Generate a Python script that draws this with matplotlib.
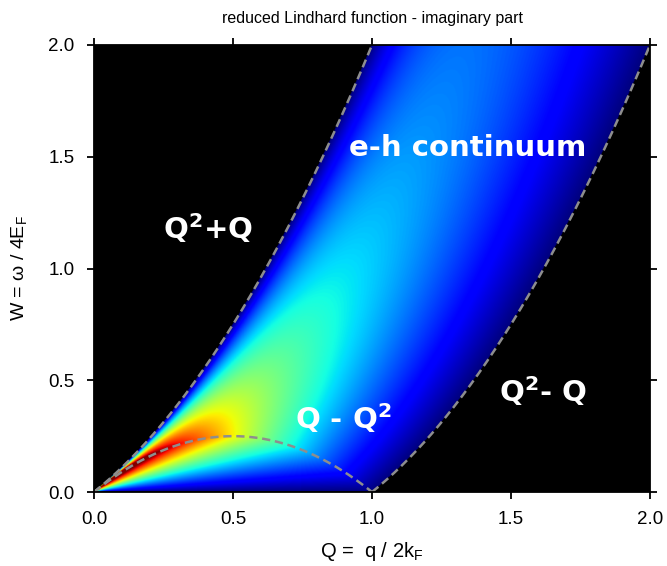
import numpy as np
import matplotlib
matplotlib.use("Agg")
import matplotlib.pyplot as plt

# axis ranges and ticks
q_range = [0.0, 2.0]
w_range = [0.0, 2.0]
q_ticks = [0.0, 0.5, 1.0, 1.5, 2.0]
w_ticks = [0.0, 0.5, 1.0, 1.5, 2.0]
tick_labels = ["0.0", "0.5", "1.0", "1.5", "2.0"]

# colour scale of the map
c_min = 0.0
c_max = 1.2

# region labels (text, Q, W)
label_texts = ["Q$^\\mathregular{2}$+Q", "e-h continuum", "Q - Q$^\\mathregular{2}$", "Q$^\\mathregular{2}$- Q"]
label_q = [0.41, 1.345, 0.895, 1.615]
label_w = [1.18, 1.54, 0.33, 0.45]

plt.rcParams["font.family"] = ["Liberation Sans", "DejaVu Sans"]


def lindhard_im(Q, W):
    """Imaginary part of the reduced 3D Lindhard function."""
    nu = W / Q
    out = np.zeros_like(Q)
    inner = (Q + nu) < 1
    outer = (np.abs(Q - nu) < 1) & ((Q + nu) >= 1)
    out[inner] = np.pi / 2 * nu[inner]
    out[outer] = np.pi / (8 * Q[outer]) * (1 - (Q[outer] - nu[outer]) ** 2)
    return out


n = 900
qq = np.linspace(q_range[0], q_range[1], n)[1:]
ww = np.linspace(w_range[0], w_range[1], n)
Q, W = np.meshgrid(qq, ww)
Z = lindhard_im(Q, W)
Z = np.ma.masked_where(Z <= 0, Z)

cmap = plt.get_cmap("jet").copy()
cmap.set_bad("black")

fig = plt.figure(figsize=(6.67, 5.66), dpi=100)
ax = fig.add_axes([0.141, 0.1307, 0.8335, 0.7898])
ax.set_facecolor("black")

ax.imshow(Z, origin="lower", extent=[q_range[0], q_range[1], w_range[0], w_range[1]],
          cmap=cmap, vmin=c_min, vmax=c_max, aspect="auto", interpolation="bilinear")

# boundaries of the particle-hole continuum
q1 = np.linspace(0, 1, 300)
q2 = np.linspace(1, 2, 300)
dash = dict(color="#8e8e8e", lw=1.8, ls=(0, (3.3, 1.9)))
ax.plot(q1, q1 ** 2 + q1, **dash)
ax.plot(q1, q1 - q1 ** 2, **dash)
ax.plot(q2, q2 ** 2 - q2, **dash)

for txt, x, y in zip(label_texts, label_q, label_w):
    ax.text(x, y, txt, color="white", fontsize=21, ha="center", va="center",
            family="DejaVu Sans", fontweight="semibold")

ax.set_xlim(q_range)
ax.set_ylim(w_range)
ax.set_xticks(q_ticks)
ax.set_xticklabels(tick_labels)
ax.set_yticks(w_ticks)
ax.set_yticklabels(tick_labels)
ax.tick_params(direction="out", length=5, width=1.3, labelsize=13.5,
               top=True, right=True, pad=9)
for s in ax.spines.values():
    s.set_linewidth(1.3)

ax.set_title("reduced Lindhard function - imaginary part", fontsize=11.5, pad=16)
ax.set_xlabel("Q =  q / 2k$_\\mathregular{F}$", fontsize=14.5, labelpad=8)
ax.set_ylabel("W = \u03c9 / 4E$_\\mathregular{F}$", fontsize=14, labelpad=13)

fig.savefig("out.png", dpi=100)
